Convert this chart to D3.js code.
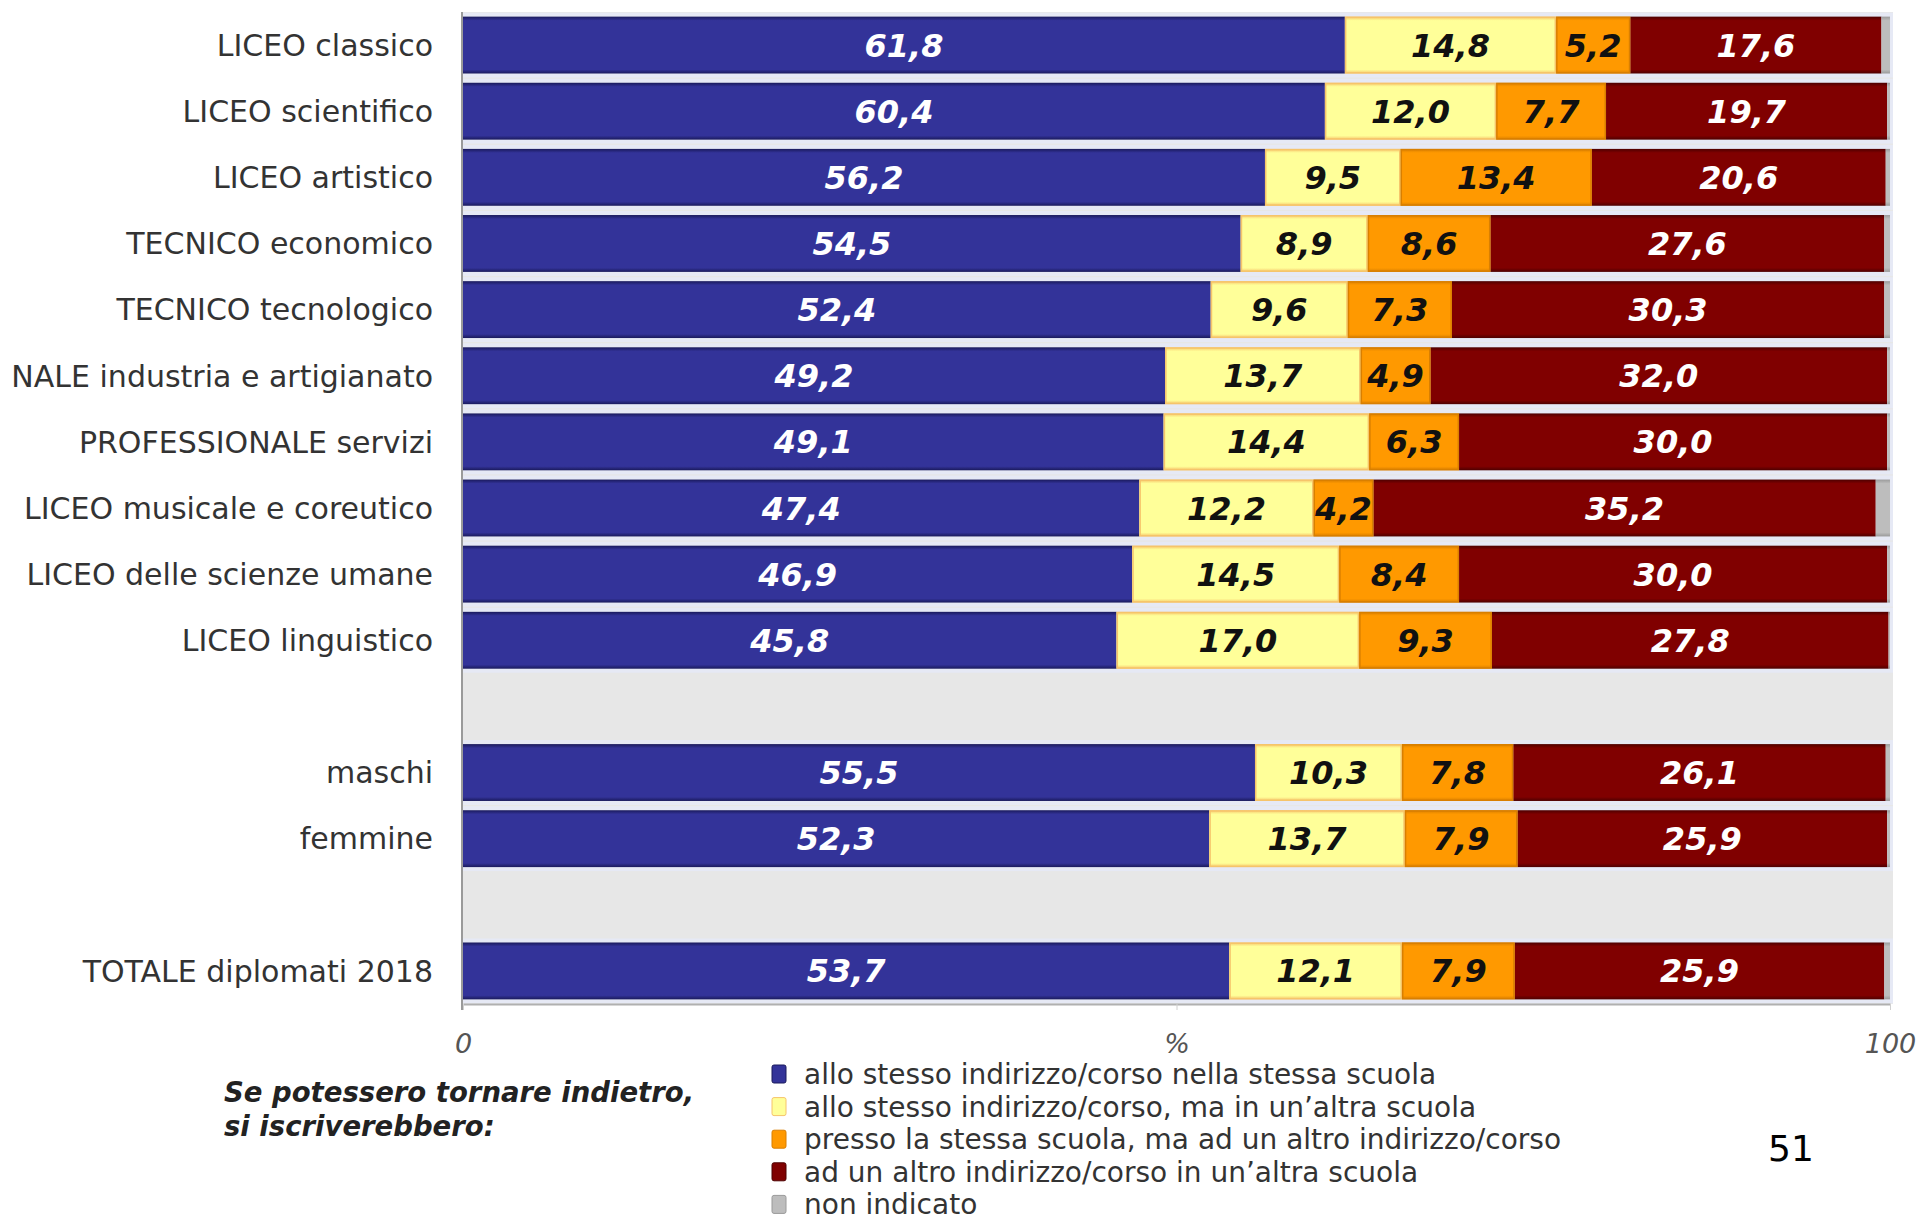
<!DOCTYPE html>
<html lang="it">
<head>
<meta charset="UTF-8">
<title>Se potessero tornare indietro, si iscriverebbero</title>
<script src="https://cdn.jsdelivr.net/npm/d3@7"></script>
<style>
  body { margin: 0; background: #fff; }
  svg { display: block; }
  text { font-family: "DejaVu Sans", Verdana, sans-serif; }
</style>
</head>
<body>
<svg width="1919" height="1222"></svg>
<script>
// rows from top to bottom; null = empty spacer row
const categories = [
  "LICEO classico", "LICEO scientifico", "LICEO artistico", "TECNICO economico",
  "TECNICO tecnologico", "NALE industria e artigianato", "PROFESSIONALE servizi",
  "LICEO musicale e coreutico", "LICEO delle scienze umane", "LICEO linguistico",
  null, "maschi", "femmine", null, "TOTALE diplomati 2018"
];
const stessoStessa  = [61.8, 60.4, 56.2, 54.5, 52.4, 49.2, 49.1, 47.4, 46.9, 45.8, null, 55.5, 52.3, null, 53.7];
const stessoAltra   = [14.8, 12.0,  9.5,  8.9,  9.6, 13.7, 14.4, 12.2, 14.5, 17.0, null, 10.3, 13.7, null, 12.1];
const altroStessa   = [ 5.2,  7.7, 13.4,  8.6,  7.3,  4.9,  6.3,  4.2,  8.4,  9.3, null,  7.8,  7.9, null,  7.9];
const altroAltra    = [17.6, 19.7, 20.6, 27.6, 30.3, 32.0, 30.0, 35.2, 30.0, 27.8, null, 26.1, 25.9, null, 25.9];
const nonIndicato   = [ 0.6,  0.2,  0.3,  0.4,  0.4,  0.2,  0.2,  1.0,  0.2,  0.1, null,  0.3,  0.2, null,  0.4];

const seriesNames = [
  "allo stesso indirizzo/corso nella stessa scuola",
  "allo stesso indirizzo/corso, ma in un\u2019altra scuola",
  "presso la stessa scuola, ma ad un altro indirizzo/corso",
  "ad un altro indirizzo/corso in un\u2019altra scuola",
  "non indicato"
];
const tickValues = [0, 50, 100];
const tickLabels = ["0", "%", "100"];

const colors   = ["#333399", "#ffff99", "#ff9900", "#800000", "#bdbdbd"];
const shades   = ["#1a1a5c", "#f6c46a", "#d97f00", "#4d0000", "#9a9a9a"];
const textCols = ["#ffffff", "#111111", "#111111", "#ffffff", null];

const svg = d3.select("svg");

const keys = ["s0", "s1", "s2", "s3", "s4"];
const allSeries = [stessoStessa, stessoAltra, altroStessa, altroAltra, nonIndicato];
const rows = [];
categories.forEach((c, i) => {
  if (c === null) return;
  const r = { idx: i, label: c };
  keys.forEach((k, j) => r[k] = allSeries[j][i]);
  rows.push(r);
});
const stacked = d3.stack().keys(keys)(rows);

const x = d3.scaleLinear().domain([0, 100]).range([463, 1890]);
const y = d3.scaleBand().domain(d3.range(categories.length))
  .range([12, 1004]).paddingInner(0.14).paddingOuter(0.07);

// gradients for the 3D bar look
const defs = svg.append("defs");
colors.forEach((c, i) => {
  const g = defs.append("linearGradient").attr("id", "g" + i)
    .attr("x1", 0).attr("x2", 0).attr("y1", 0).attr("y2", 1);
  g.append("stop").attr("offset", "0%").attr("stop-color", shades[i]);
  g.append("stop").attr("offset", "7%").attr("stop-color", c);
  g.append("stop").attr("offset", "93%").attr("stop-color", c);
  g.append("stop").attr("offset", "100%").attr("stop-color", shades[i]);
});

// plot background
svg.append("rect")
  .attr("x", x(0)).attr("y", 12)
  .attr("width", x(100) - x(0) + 3).attr("height", 992)
  .attr("fill", "#e7e7e7");

// lighter halo around each bar row
svg.append("g").selectAll("rect").data(rows).join("rect")
  .attr("x", x(0)).attr("y", d => y(d.idx) - 4)
  .attr("width", x(100) - x(0) + 3).attr("height", y.bandwidth() + 8)
  .attr("fill", "#e6e9f5");

const layers = svg.append("g").selectAll("g").data(stacked).join("g")
  .attr("fill", (d, i) => `url(#g${i})`);

layers.selectAll("rect").data(d => d.map(p => ({ p, idx: p.data.idx }))).join("rect")
  .attr("x", d => x(d.p[0]))
  .attr("y", d => y(d.idx))
  .attr("width", d => x(d.p[1]) - x(d.p[0]))
  .attr("height", y.bandwidth());

// thin borders on yellow / orange segments
[1, 2].forEach(i => {
  svg.append("g").selectAll("rect").data(stacked[i]).join("rect")
    .attr("x", d => x(d[0]) + 0.75)
    .attr("y", d => y(d.data.idx) + 0.75)
    .attr("width", d => Math.max(0, x(d[1]) - x(d[0]) - 1.5))
    .attr("height", y.bandwidth() - 1.5)
    .attr("fill", "none")
    .attr("stroke", shades[i])
    .attr("stroke-width", 1.5);
});

// value labels
stacked.forEach((s, i) => {
  if (!textCols[i]) return;
  svg.append("g").selectAll("text").data(s).join("text")
    .attr("x", d => x((d[0] + d[1]) / 2))
    .attr("y", d => y(d.data.idx) + y.bandwidth() / 2)
    .attr("dy", "0.36em")
    .attr("text-anchor", "middle")
    .attr("font-size", 32)
    .attr("font-weight", "bold")
    .attr("font-style", "italic")
    .attr("fill", textCols[i])
    .text(d => d3.format(".1f")(d[1] - d[0]).replace(".", ","));
});

// category labels
svg.append("g").selectAll("text").data(rows).join("text")
  .attr("x", 433)
  .attr("y", d => y(d.idx) + y.bandwidth() / 2)
  .attr("dy", "0.36em")
  .attr("text-anchor", "end")
  .attr("font-size", 30)
  .attr("fill", "#333")
  .text(d => d.label);

// left axis line
svg.append("line")
  .attr("x1", 462).attr("x2", 462).attr("y1", 12).attr("y2", 1010)
  .attr("stroke", "#9a9a9a").attr("stroke-width", 2);

// bottom axis
const xAxis = d3.axisBottom(x).tickValues(tickValues)
  .tickFormat((d, i) => tickLabels[i]).tickSize(6).tickSizeOuter(0);
const ax = svg.append("g").attr("transform", "translate(0,1004)").call(xAxis);
ax.select(".domain").attr("stroke", "#b0b0b0").attr("stroke-width", 2);
ax.selectAll(".tick line").attr("stroke", "#d0d0d0");
ax.selectAll(".tick text")
  .attr("y", 40).attr("dy", "0.35em")
  .attr("font-family", "DejaVu Sans, sans-serif")
  .attr("font-size", 27).attr("font-style", "italic").attr("fill", "#555");

// legend title
const title = svg.append("text").attr("x", 224).attr("font-size", 27.5)
  .attr("font-weight", "bold").attr("font-style", "italic").attr("fill", "#222");
title.append("tspan").attr("x", 224).attr("y", 1092).attr("dy", "0.36em").text("Se potessero tornare indietro,");
title.append("tspan").attr("x", 224).attr("y", 1126).attr("dy", "0.36em").text("si iscriverebbero:");

// legend
const lg = svg.append("g").selectAll("g").data(seriesNames).join("g")
  .attr("transform", (d, i) => `translate(772,${1074 + i * 32.6})`);
lg.append("rect")
  .attr("x", 0).attr("y", -9).attr("width", 14).attr("height", 18).attr("rx", 2)
  .attr("fill", (d, i) => colors[i])
  .attr("stroke", (d, i) => shades[i]).attr("stroke-width", 1);
lg.append("text")
  .attr("x", 32).attr("dy", "0.36em")
  .attr("font-size", 28).attr("fill", "#333")
  .text(d => d);

// page number
svg.append("text")
  .attr("x", 1768).attr("y", 1148).attr("dy", "0.36em")
  .attr("font-family", "Liberation Sans, Arial, sans-serif")
  .attr("font-size", 36).attr("fill", "#000")
  .text("51");
</script>
</body>
</html>
